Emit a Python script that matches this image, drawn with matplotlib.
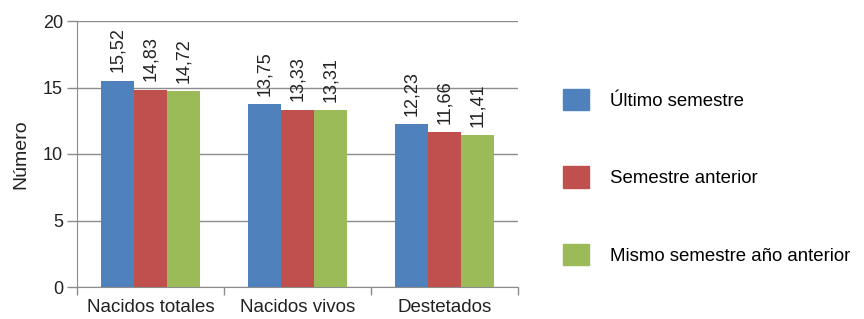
import matplotlib
matplotlib.use("Agg")
import matplotlib.pyplot as plt
from matplotlib.patches import Patch
import numpy as np

plt.rcParams['font.family'] = ['Liberation Sans', 'DejaVu Sans']

categories = ["Nacidos totales", "Nacidos vivos", "Destetados"]
series_names = ["Último semestre", "Semestre anterior", "Mismo semestre año anterior"]
ultimo = [15.52, 13.75, 12.23]
anterior = [14.83, 13.33, 11.66]
mismo = [14.72, 13.31, 11.41]
values = [ultimo, anterior, mismo]
colors = ["#4F81BD", "#C0504D", "#9BBB59"]
yticks = [0, 5, 10, 15, 20]

fig = plt.figure(figsize=(8.64, 3.19), dpi=100)
ax = fig.add_axes([77/864, 1 - 287/319, (518-77)/864, (287-21)/319])

x = np.arange(len(categories))
w = 0.223
for i, (vals, c) in enumerate(zip(values, colors)):
    pos = x + (i - 1) * w
    bars = ax.bar(pos, vals, width=w, color=c, zorder=3)
    for b, v in zip(bars, vals):
        ax.annotate(f"{v:.2f}".replace(".", ","),
                    (b.get_x() + b.get_width()/2, v),
                    xytext=(0, 6), textcoords="offset points",
                    rotation=90, ha="center", va="bottom",
                    fontsize=13, color="#222222")

ax.set_xlim(-0.5, 2.5)
ax.set_ylim(0, 20)
ax.set_yticks(yticks)
ax.set_yticklabels([str(t) for t in yticks], fontsize=13, color="#222222")
ax.yaxis.grid(True, color="#8c8c8c", linewidth=1, zorder=0)
ax.set_axisbelow(True)
ax.tick_params(axis='y', length=7, width=1, color="#8c8c8c", pad=3)

ax.set_xticks(x)
ax.set_xticklabels(categories, fontsize=13.5, color="#222222")
ax.tick_params(axis='x', length=0, pad=9)
ax.set_xticks([-0.5, 0.5, 1.5, 2.5], minor=True)
ax.tick_params(axis='x', which='minor', length=6, width=1, color="#8c8c8c")

for s in ["top", "right"]:
    ax.spines[s].set_visible(False)
for s in ["left", "bottom"]:
    ax.spines[s].set_color("#8c8c8c")

ax.set_ylabel("Número", fontsize=14, color="#222222", labelpad=10)

handles = [Patch(facecolor=c, edgecolor=c) for c in colors]
fig.legend(handles, series_names, loc="center left",
           bbox_to_anchor=(563/864, 1 - 177/319), frameon=False,
           fontsize=13.4, handlelength=1.42, handleheight=1.42,
           labelspacing=3.0, handletextpad=1.1, borderaxespad=0,
           borderpad=0)

fig.savefig("out.png", dpi=100)
